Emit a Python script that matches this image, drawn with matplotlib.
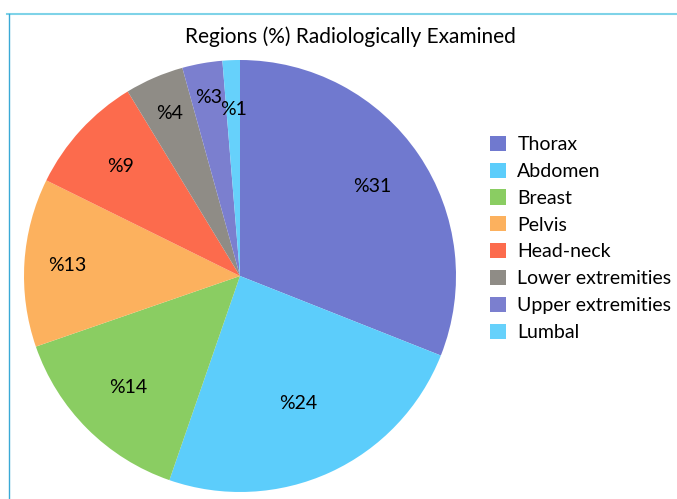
import numpy as np
import matplotlib.pyplot as plt
from matplotlib.lines import Line2D

regions = ['Thorax', 'Abdomen', 'Breast', 'Pelvis', 'Head-neck',
           'Lower extremities', 'Upper extremities', 'Lumbal']
share = [31.0, 24.3, 14.4, 12.6, 9.0, 4.4, 3.0, 1.3]
labels = ['%31', '%24', '%14', '%13', '%9', '%4', '%3', '%1']
colors = ['#7079cf', '#5ccdfb', '#8acd62', '#fcb15e', '#fc6b4d',
          '#8f8c86', '#7b7fcf', '#66d1fb']
# radial position of each percent label (fraction of radius)
label_r = [0.74, 0.65, 0.73, 0.8, 0.75, 0.82, 0.84, 0.77]

plt.rcParams['font.family'] = ['Lato', 'DejaVu Sans']

W, H = 677, 499
fig = plt.figure(figsize=(W / 100, H / 100), dpi=100)

cx, cy, r = 240, 276, 216
ax = fig.add_axes([(cx - r) / W, (H - cy - r) / H, 2 * r / W, 2 * r / H])
wedges, texts = ax.pie(share, colors=colors, startangle=90, counterclock=False,
                       wedgeprops=dict(linewidth=0))
ax.set_xlim(-1, 1)
ax.set_ylim(-1, 1)
ax.axis('off')

for w, lab, lr in zip(wedges, labels, label_r):
    a = np.deg2rad((w.theta1 + w.theta2) / 2)
    ax.text(lr * np.cos(a), lr * np.sin(a), lab, ha='center', va='center',
            fontsize=14, color='black')

fig.text(350 / W, 1 - 37 / H, 'Regions (%) Radiologically Examined',
         ha='center', va='center', fontsize=15)

fig.legend(wedges, regions, loc='upper left', bbox_to_anchor=(482 / W, 1 - 128 / H),
           frameon=False, fontsize=14, handlelength=0.82, handleheight=0.82,
           handletextpad=0.6, labelspacing=0.49, borderaxespad=0)

fig.add_artist(Line2D([7 / W, 1], [1 - 14 / H, 1 - 14 / H], color='#7fd3e8', lw=1.5))
fig.add_artist(Line2D([9 / W, 9 / W], [0, 1 - 14 / H], color='#3aa9d6', lw=1))

fig.savefig('out.png', dpi=100)
